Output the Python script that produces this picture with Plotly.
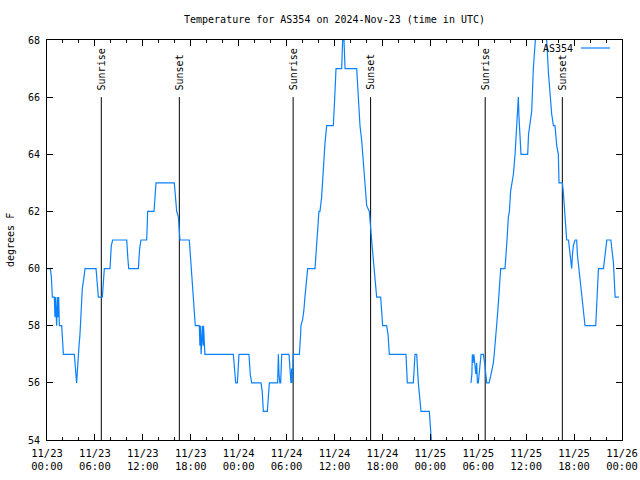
import pandas as pd
import plotly.graph_objects as go

BASE = pd.Timestamp("2024-11-23 00:00")

# Temperature readings (hours since 11/23 00:00 UTC, degrees F) before the data gap
hours_a = [0.00, 0.42, 0.55, 0.60, 0.67, 0.92, 1.00, 1.06, 1.13, 1.21, 1.30, 1.38, 1.46, 1.55,
           1.84, 1.95, 2.05, 3.42, 3.55, 3.63, 3.71, 3.78, 3.84, 4.01, 4.13, 4.26, 4.42, 4.63,
           4.76, 6.14, 6.30, 6.43, 6.93, 7.05, 7.18, 7.89, 8.05, 8.22, 9.98, 10.14, 10.23,
           11.44, 11.60, 11.77, 12.48, 12.55, 12.60, 13.40, 13.50, 13.60, 13.65, 15.94, 16.05,
           16.15, 16.24, 16.45, 16.60, 16.65, 17.82, 17.95, 18.11, 18.37, 18.57, 19.07, 19.15,
           19.20, 19.30, 19.45, 19.55, 19.60, 19.77, 23.33, 23.46, 23.63, 23.84, 23.99, 24.04,
           25.29, 25.45, 25.63, 26.80, 26.95, 27.09, 27.59, 27.72, 27.84, 28.88, 28.97, 29.05,
           29.15, 29.26, 29.39, 30.30, 30.43, 30.55, 30.64, 30.70, 30.85, 31.60, 31.76, 31.80,
           32.00, 32.15, 32.30, 32.50, 32.64, 33.56, 33.77, 33.90, 34.05, 34.18, 34.39, 34.50,
           34.60, 34.70, 34.81, 35.02, 35.85, 35.98, 36.19, 36.90, 37.02, 37.19, 37.32, 38.78,
           39.00, 39.19, 39.40, 39.61, 39.80, 40.03, 40.36, 40.50, 40.65, 40.80, 40.95, 41.10,
           41.28, 41.78, 41.90, 42.03, 42.53, 42.70, 42.87, 44.95, 45.12, 45.87, 46.08, 46.29,
           46.50, 46.70, 46.83, 47.87, 48.00, 48.17, 48.30]
temps_a = [60, 60, 59.7, 59.25, 59, 59, 58.3, 59, 58.3, 58, 59, 58.3, 59, 58,
           58, 57.5, 57, 57, 56.5, 56.3, 56, 56.3, 56.7, 57.3, 57.7, 58.3, 59.3, 59.7,
           60, 60, 59.3, 59, 59, 59.7, 60, 60, 60.8, 61, 61, 60.3, 60,
           60, 60.7, 61, 61, 61.5, 62, 62, 62.5, 62.8, 63, 63, 62.7,
           62.3, 62, 61.8, 61.2, 61, 61, 60.5, 60, 59, 58, 58, 57.3,
           58, 57, 58, 57.3, 58, 57, 57, 56.5, 56, 56, 56.7, 57,
           57, 56.3, 56, 56, 55.7, 55, 55, 55.7, 56, 56, 57, 56.3,
           56, 56, 57, 57, 56.3, 56, 56.5, 56, 57, 57, 57.7, 58,
           58.2, 58.5, 59, 59.5, 60, 60, 61, 61.3, 62, 62, 62.5, 63,
           63.5, 64, 64.4, 65, 65, 65.7, 67, 67, 68, 68, 67, 67,
           65.8, 65, 64.5, 63.8, 63, 62.2, 62, 61.3, 61, 60.5, 60, 59.7,
           59, 59, 58.3, 58, 58, 57.7, 57, 57, 56, 56, 57, 57,
           56, 55.5, 55, 55, 54.5, 53.7, 53.3]

# Readings after the data gap
hours_b = [53.09, 53.20, 53.26, 53.35, 53.45, 53.59, 53.70, 53.80, 53.90, 54.01, 54.20, 54.35,
           54.64, 54.80, 55.06, 55.35, 55.60, 55.89, 56.00, 56.18, 56.30, 56.52, 56.65, 56.81,
           57.35, 57.45, 57.60, 57.77, 57.90, 58.05, 58.19, 58.40, 58.61, 58.75, 58.90, 59.02,
           59.10, 59.20, 59.35, 59.52, 60.19, 60.30, 60.48, 60.69, 60.90, 61.11, 61.40, 62.30,
           62.57, 62.80, 62.99, 63.20, 63.41, 63.61, 63.83, 64.03, 64.11, 64.53, 64.65, 64.86,
           65.07, 65.30, 65.49, 65.70, 65.80, 65.91, 66.12, 66.33, 66.41, 66.60, 66.83, 67.00,
           67.16, 67.37, 68.71, 68.85, 68.95, 69.05, 69.68, 69.89, 70.10, 70.60, 70.93, 71.14,
           71.62]
temps_b = [56, 56.3, 57, 56.7, 57, 56.5, 56.3, 56.7, 56, 56, 56.5, 57,
           57, 56.7, 56, 56, 56.3, 56.7, 57, 57.5, 58, 58.8, 59.3, 60,
           60, 60.3, 61, 61.8, 62, 62.7, 63, 63.3, 64, 64.8, 65.5, 66,
           65.3, 64.5, 64, 64, 64, 64.7, 65, 65.5, 67, 68.2, 69, 69,
           68, 66.8, 66, 65.4, 65, 65, 64.3, 64, 63, 63, 62.7, 61.7,
           61, 61, 60.5, 60, 60.5, 60.8, 61, 61, 60.5, 60, 59.3, 58.8,
           58.5, 58, 58, 58.8, 59.3, 60, 60, 60.5, 61, 61, 60.2, 59,
           59]

sunrise_h = [6.80, 30.82, 54.87]
sunset_h = [16.57, 40.52, 64.53]

y_ticks = [54, 56, 58, 60, 62, 64, 66, 68]

FONT = "DejaVu Sans Mono"
LINE_COLOR = "#0a80ff"


def to_time(h):
    return BASE + pd.Timedelta(hours=h)


x_vals = [to_time(h) for h in hours_a] + [None] + [to_time(h) for h in hours_b]
y_vals = list(temps_a) + [None] + list(temps_b)

fig = go.Figure()

# Sunrise / sunset markers
for name, hs in (("Sunrise", sunrise_h), ("Sunset", sunset_h)):
    for h in hs:
        t = to_time(h)
        fig.add_trace(go.Scatter(x=[t, t], y=[54, 66], mode="lines",
                                 line=dict(color="black", width=1),
                                 showlegend=False, hoverinfo="skip"))
        fig.add_annotation(x=t, y=66, xref="x", yref="y", text=name, textangle=-90,
                           showarrow=False, xanchor="center", yanchor="bottom", yshift=5,
                           font=dict(family=FONT, size=10, color="black"))

fig.add_trace(go.Scatter(x=x_vals, y=y_vals, mode="lines", name="AS354",
                         line=dict(color=LINE_COLOR, width=1.2), connectgaps=False,
                         showlegend=False))

# gnuplot-style key: text then line sample
fig.add_annotation(x=(575 - 47) / 575, y=1 - (49 - 40) / 400, xref="paper", yref="paper",
                   text="AS354", showarrow=False, xanchor="right", yanchor="middle",
                   font=dict(family=FONT, size=10, color="black"))
fig.add_shape(type="line", xref="paper", yref="paper",
              x0=(581 - 47) / 575, x1=(610 - 47) / 575,
              y0=1 - (48 - 40) / 400, y1=1 - (48 - 40) / 400,
              line=dict(color=LINE_COLOR, width=1.2))

# y-axis title
fig.add_annotation(x=(10 - 47) / 575, y=0.5, xref="paper", yref="paper",
                   text="degrees F", textangle=-90, showarrow=False,
                   xanchor="center", yanchor="middle",
                   font=dict(family=FONT, size=10, color="black"))

fig.update_layout(
    width=640, height=480,
    margin=dict(l=47, r=18, t=40, b=40, autoexpand=False),
    paper_bgcolor="white", plot_bgcolor="white",
    title=dict(text="Temperature for AS354 on 2024-Nov-23 (time in UTC)",
               x=0.5, xref="paper", xanchor="center",
               y=1 - 19 / 480, yref="container", yanchor="middle",
               font=dict(family=FONT, size=10, color="black")),
    font=dict(family=FONT, size=10, color="black"),
    showlegend=False,
)

fig.update_xaxes(
    type="date",
    range=[BASE, BASE + pd.Timedelta(hours=72)],
    dtick=6 * 3600 * 1000,
    tick0=BASE,
    tickformat="%m/%d\n%H:%M",
    ticks="inside", ticklen=6, tickcolor="black",
    minor=dict(ticks="inside", ticklen=3, dtick=2 * 3600 * 1000, tickcolor="black"),
    showline=True, linecolor="black", linewidth=1, mirror="ticks",
    showgrid=False, zeroline=False, automargin=False,
    ticklabelstandoff=3,
    tickfont=dict(family=FONT, size=10.5, color="black"),
)
fig.update_yaxes(
    range=[54, 68],
    tickvals=y_ticks,
    ticktext=[str(v) for v in y_ticks],
    ticks="inside", ticklen=6, tickcolor="black",
    showline=True, linecolor="black", linewidth=1, mirror="ticks",
    showgrid=False, zeroline=False, automargin=False,
    ticklabelstandoff=4,
    tickfont=dict(family=FONT, size=10, color="black"),
)

fig.write_html("out.html", config={"displayModeBar": False},
               post_script="document.body.style.margin='0';document.body.style.padding='0';")
